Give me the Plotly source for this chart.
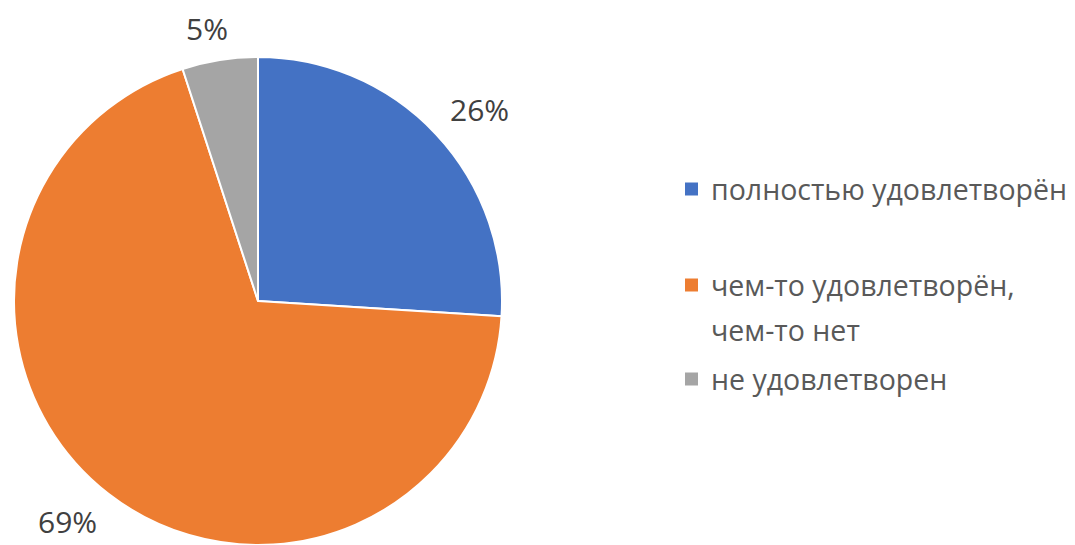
import math
import plotly.graph_objects as go

# ---- data ----
categories = ["полностью удовлетворён", "чем-то удовлетворён, чем-то нет", "не удовлетворен"]
legend_lines = [["полностью удовлетворён"], ["чем-то удовлетворён,", "чем-то нет"], ["не удовлетворен"]]
values = [26, 69, 5]
colors = ["#4472C4", "#ED7D31", "#A5A5A5"]

W, H = 1075, 545
FONT = "Open Sans"

# pie geometry (screen pixels)
cx, cy, r = 258, 301, 244

def px(x):
    return x / W

def py(y):
    return 1 - y / H

fig = go.Figure()
fig.add_trace(go.Pie(
    labels=categories,
    values=values,
    sort=False,
    direction="clockwise",
    rotation=0,
    marker=dict(colors=colors, line=dict(color="white", width=2)),
    textinfo="none",
    hoverinfo="label+percent",
    showlegend=False,
    domain=dict(x=[px(cx - r), px(cx + r)], y=[max(0, py(cy + r)), py(cy - r)]),
))

annotations = []
shapes = []

# percentage labels outside slices
LBL_SIZE = 30
total = sum(values)
cum = 0
for v in values:
    frac = v / total
    theta = 2 * math.pi * (cum + frac / 2)
    cum += frac
    txt = f"{round(100 * frac)}%"
    ndig = len(txt) - 1
    hw = 0.5 * LBL_SIZE * (0.57 * ndig + 0.82)
    hh = 12
    s, c = math.sin(theta), math.cos(theta)
    m = max(abs(s), abs(c))
    g = 20
    lx = cx + (r + g) * s + hw * s / m - 6 * (s < 0)
    ly = cy - (r + g) * c - hh * c / m
    annotations.append(dict(
        x=px(lx), y=py(ly), xref="paper", yref="paper",
        text=txt, showarrow=False, xanchor="center", yanchor="middle",
        font=dict(family=FONT, size=LBL_SIZE, color="#404040"),
    ))

# legend (drawn manually)
leg_x_box = 685
leg_x_text = 709
legend_row_y = [189, 285, 379]
line_gap = 45
for cat_lines, col, y0 in zip(legend_lines, colors, legend_row_y):
    shapes.append(dict(
        type="rect", xref="paper", yref="paper",
        x0=px(leg_x_box), x1=px(leg_x_box + 13),
        y0=py(y0 + 6.5), y1=py(y0 - 6.5),
        fillcolor=col, line=dict(width=0),
    ))
    for i, ln in enumerate(cat_lines):
        annotations.append(dict(
            x=px(leg_x_text), y=py(y0 + i * line_gap), xref="paper", yref="paper",
            text=ln, showarrow=False, xanchor="left", yanchor="middle",
            font=dict(family=FONT, size=28.5, color="#595959"),
        ))

fig.update_layout(
    width=W, height=H,
    margin=dict(l=0, r=0, t=0, b=0),
    paper_bgcolor="white",
    plot_bgcolor="white",
    annotations=annotations,
    shapes=shapes,
)

fig.write_html(
    "out.html",
    config={"displayModeBar": False},
    post_script="document.body.style.margin='0';document.body.style.overflow='hidden';",
)
